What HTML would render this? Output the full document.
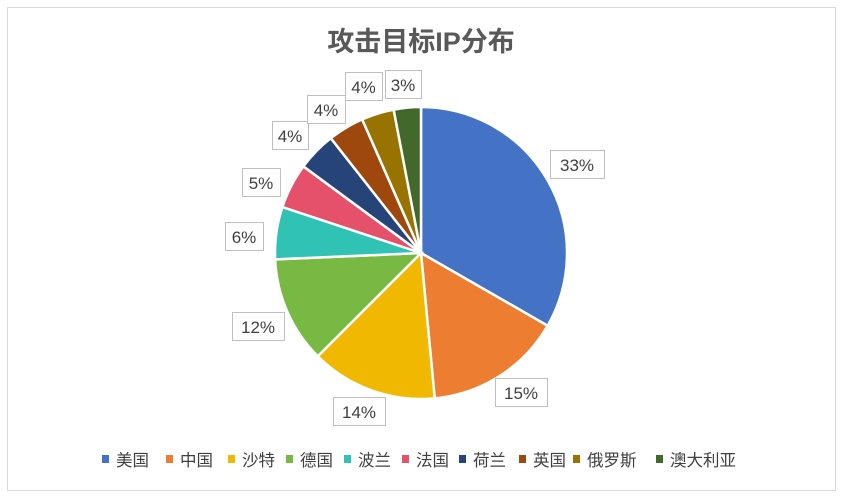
<!DOCTYPE html><html><head><meta charset="utf-8"><style>
body{margin:0;background:#fff;width:843px;height:498px;overflow:hidden;font-family:"Liberation Sans","Noto Sans CJK SC",sans-serif}
</style></head><body>
<svg id="s" width="843" height="498" xmlns="http://www.w3.org/2000/svg">
<rect x="7.5" y="7.5" width="828" height="483" fill="#fff" stroke="#d9d9d9"/>
<text x="421" y="51" text-anchor="middle" font-size="27" font-weight="bold" fill="#595959" font-family="Liberation Sans, Noto Sans CJK SC, sans-serif">攻击目标IP分布</text>
<g id="pie"></g>
<g id="lab" font-size="17" fill="#404040" font-family="Liberation Sans, Noto Sans CJK SC, sans-serif"></g>
<g id="leg" font-size="16.5" fill="#404040" font-family="Liberation Sans, Noto Sans CJK SC, sans-serif"></g>
</svg>
<script>
var v=[33.3,15.2,14.0,11.8,5.8,5.0,4.3,4.0,3.6,3.0];
var c=["#4472C4","#ED7D31","#F0B800","#77B943","#2FC2B5","#E5506A","#264478","#9E480E","#997300","#43682B"];
var names=["美国","中国","沙特","德国","波兰","法国","荷兰","英国","俄罗斯","澳大利亚"];
var cx=421,cy=253,r=146,tot=v.reduce((a,b)=>a+b),a=0,h="";
for(var i=0;i<v.length;i++){var a1=a+v[i]/tot*2*Math.PI;
var x0=cx+r*Math.sin(a),y0=cy-r*Math.cos(a),x1=cx+r*Math.sin(a1),y1=cy-r*Math.cos(a1);
h+='<path d="M'+cx+','+cy+'L'+x0+','+y0+'A'+r+','+r+' 0 '+((a1-a)>Math.PI?1:0)+' 1 '+x1+','+y1+'Z" fill="'+c[i]+'" stroke="#fff" stroke-width="2.5"/>';a=a1;}
document.getElementById('pie').innerHTML=h;
var L=[[550,150,54,"33%"],[495,378,52,"15%"],[333,397,52,"14%"],[232,312,52,"12%"],[225,222,38,"6%"],[242,168,38,"5%"],[272,121,36,"4%"],[307,95,38,"4%"],[345,72,37,"4%"],[385,70,36,"3%"]];
h="";L.forEach(function(l){h+='<rect x="'+l[0]+'.5" y="'+l[1]+'.5" width="'+l[2]+'" height="28" fill="#fff" stroke="#bfbfbf"/><text x="'+(l[0]+l[2]/2)+'" y="'+(l[1]+21)+'" text-anchor="middle">'+l[3]+'</text>';});
document.getElementById('lab').innerHTML=h;
h="";names.forEach(function(n,i){var x=[102,166,228,286,344,402,459,519,573,656][i];h+='<rect x="'+x+'" y="455" width="7" height="8" fill="'+c[i]+'"/><text x="'+(x+14)+'" y="466">'+n+'</text>';});
document.getElementById('leg').innerHTML=h;
</script>
</body></html>
